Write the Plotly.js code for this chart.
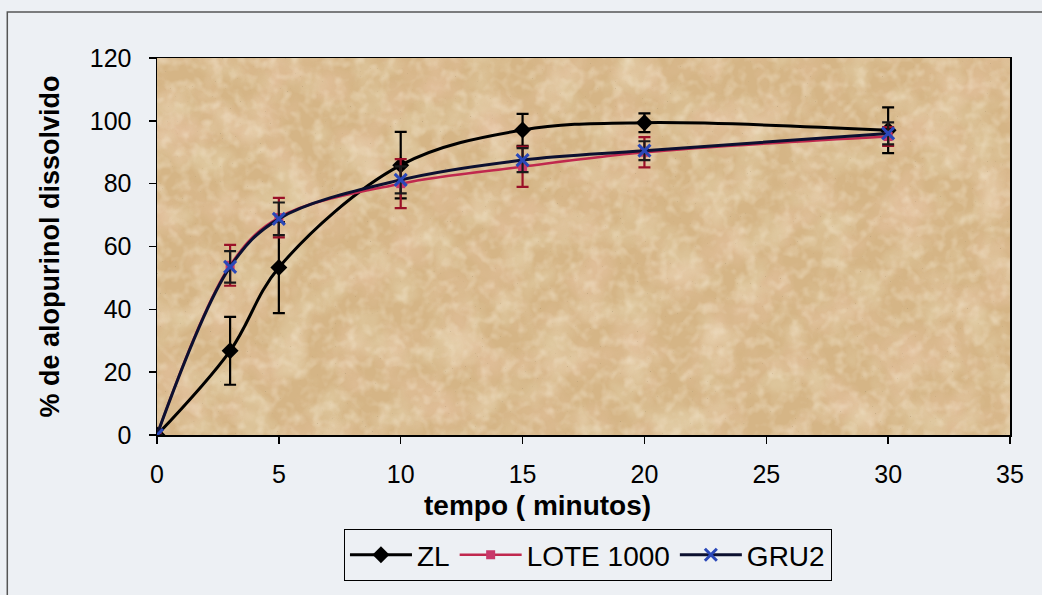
<!DOCTYPE html>
<html>
<head>
<meta charset="utf-8">
<script src="https://cdn.plot.ly/plotly-3.0.1.min.js"></script>
<style>
html,body{margin:0;padding:0;background:#edf0f4;}
#chart{width:1042px;height:595px;}
</style>
</head>
<body>
<div id="chart"></div>
<script>
// Data
var tempo = [0, 3, 5, 10, 15, 20, 30];
var zl = [0, 26.8, 53.3, 85.9, 97.1, 99.4, 97.0];
var zlErr = [0, 10.8, 14.5, 10.6, 5.1, 3.0, 7.3];
var lote = [0, 54.0, 69.2, 80.0, 85.4, 90.0, 95.0];
var loteErr = [0, 6.5, 6.3, 7.8, 6.4, 4.8, 3.0];
var gru2 = [0, 53.5, 68.8, 81.2, 87.5, 90.5, 96.0];
var gru2Err = [0, 5.0, 5.2, 4.3, 3.8, 3.0, 3.5];
var seriesNames = ['ZL', 'LOTE 1000', 'GRU2'];
var xTicks = [0, 5, 10, 15, 20, 25, 30, 35];
var yTicks = [0, 20, 40, 60, 80, 100, 120];
var xTitle = 'tempo ( minutos)';
var yTitle = '% de alopurinol dissolvido';

function noise(id, bf, oct, seed, r, g, b, ka, kb) {
  return "<filter id='" + id + "' x='0' y='0' width='100%' height='100%'><feTurbulence type='fractalNoise' baseFrequency='" + bf +
    "' numOctaves='" + oct + "' seed='" + seed + "'/><feColorMatrix type='matrix' values='0 0 0 0 " + r +
    "  0 0 0 0 " + g + "  0 0 0 0 " + b + "  " + ka + " 0 0 0 " + kb + "'/></filter>";
}
var svgTex = "<svg xmlns='http://www.w3.org/2000/svg' width='853' height='377'>" +
  noise('a', 0.022, 3, 2, 0.84, 0.58, 0.42, 2.0, -0.85) +
  noise('b', 0.026, 3, 9, 0.87, 0.82, 0.60, 2.0, -0.9) +
  noise('c', 0.09, 2, 5, 0.95, 0.88, 0.74, 2.0, -0.9) +
  noise('d', 0.6, 1, 4, 0.40, 0.30, 0.16, 9, -6.7) +
  "<rect width='100%' height='100%' fill='#d5b586'/>" +
  "<rect width='100%' height='100%' filter='url(#a)' opacity='0.6'/>" +
  "<rect width='100%' height='100%' filter='url(#b)' opacity='0.5'/>" +
  "<rect width='100%' height='100%' filter='url(#c)' opacity='0.45'/>" +
  "<rect width='100%' height='100%' filter='url(#d)' opacity='0.6'/>" +
  "</svg>";
var texURI = 'data:image/svg+xml;charset=utf-8,' + encodeURIComponent(svgTex);

var font = 'Liberation Sans, Arial, sans-serif';

var traces = [
  {
    x: tempo, y: zl, name: seriesNames[0], type: 'scatter', mode: 'lines+markers',
    line: {color: '#000000', width: 3, shape: 'spline', smoothing: 1},
    marker: {symbol: 'diamond', size: 13, color: '#000000'},
    error_y: {type: 'data', array: zlErr, visible: true, color: '#000000', thickness: 2.2, width: 6}
  },
  {
    x: tempo, y: lote, name: seriesNames[1], type: 'scatter', mode: 'lines+markers',
    line: {color: '#c0284e', width: 2.5, shape: 'spline', smoothing: 1},
    marker: {symbol: 'square', size: 9, color: '#c8386a'},
    error_y: {type: 'data', array: loteErr, visible: true, color: '#9a1028', thickness: 2.2, width: 6}
  },
  {
    x: tempo, y: gru2, name: seriesNames[2], type: 'scatter', mode: 'lines+markers',
    line: {color: '#0c1030', width: 3, shape: 'spline', smoothing: 1},
    marker: {symbol: 'x-thin', size: 12, color: '#2a48b8', line: {color: '#2a48b8', width: 3}},
    error_y: {type: 'data', array: gru2Err, visible: true, color: '#1a1a1a', thickness: 2.2, width: 6}
  }
];

var layout = {
  width: 1042, height: 595,
  paper_bgcolor: '#edf0f4',
  plot_bgcolor: '#d5b586',
  margin: {l: 157, r: 32, t: 58, b: 160},
  font: {family: font, size: 24, color: '#000000'},
  showlegend: true,
  legend: {
    orientation: 'h', x: 0.505, xanchor: 'center', y: -0.318, yanchor: 'middle',
    bgcolor: 'rgba(0,0,0,0)', bordercolor: '#000000', borderwidth: 1.2,
    font: {family: font, size: 28, color: '#000000'}, itemwidth: 62
  },
  xaxis: {
    range: [0, 35], tickvals: xTicks, ticktext: xTicks.map(String),
    showline: true, linecolor: '#000000', linewidth: 1.5, mirror: true,
    ticks: 'outside', ticklen: 7, tickcolor: '#000000', tickwidth: 1.5,
    showgrid: false, zeroline: false, ticklabelstandoff: 9,
    tickfont: {family: font, size: 25}
  },
  yaxis: {
    range: [0, 120], tickvals: yTicks, ticktext: yTicks.map(String),
    showline: true, linecolor: '#000000', linewidth: 1.5, mirror: true,
    ticks: 'outside', ticklen: 7, tickcolor: '#000000', tickwidth: 1.5,
    showgrid: false, zeroline: false, ticklabelstandoff: 12,
    tickfont: {family: font, size: 25},
    title: {text: '<b>' + yTitle + '</b>', font: {family: font, size: 27}, standoff: 22}
  },
  annotations: [{
    text: '<b>' + xTitle + '</b>', xref: 'paper', yref: 'paper', x: 0.446, y: -0.186,
    xanchor: 'center', yanchor: 'middle', showarrow: false,
    font: {family: font, size: 28, color: '#000000'}
  }],
  images: [{
    source: texURI, xref: 'paper', yref: 'paper', x: 0, y: 1, sizex: 1, sizey: 1,
    xanchor: 'left', yanchor: 'top', sizing: 'stretch', layer: 'below'
  }],
  shapes: [{
    type: 'rect', xref: 'paper', yref: 'paper',
    x0: -0.1755, x1: 1.2, y0: -0.6, y1: 1.122,
    line: {color: '#555555', width: 1.5}, fillcolor: 'rgba(0,0,0,0)', layer: 'below'
  }]
};

Plotly.newPlot('chart', traces, layout, {displayModeBar: false, staticPlot: true});
</script>
</body>
</html>
